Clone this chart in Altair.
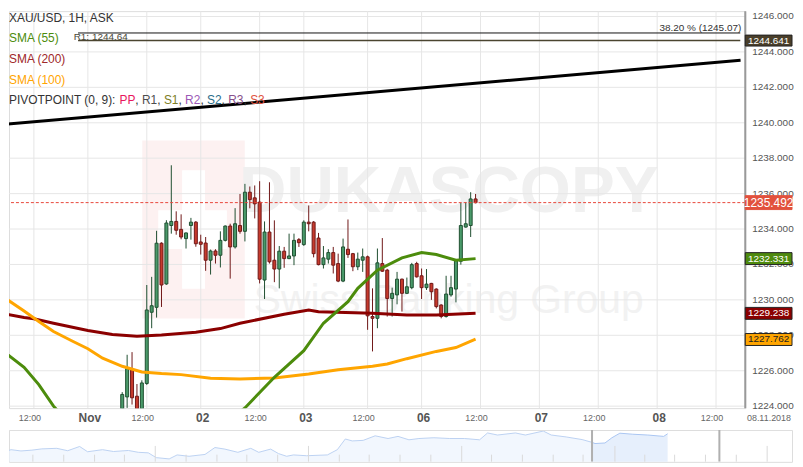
import altair as alt
import pandas as pd

FONT = "Liberation Sans"

# ------------------------------------------------------------------ data
# hourly XAU/USD candles (slot 0 = first visible candle)
opens = [1223.0, 1224.52, 1226.06, 1224.56, 1223.4, 1225.28, 1229.3, 1229.58, 1233.2, 1230.9,
         1234.2, 1234.43, 1233.98, 1233.46, 1234.2, 1234.39, 1233.27, 1233.21, 1232.24, 1232.76,
         1232.52, 1233.36, 1234.17, 1232.99, 1234.2, 1233.87, 1236.08, 1235.76, 1235.52, 1231.12,
         1233.83, 1232.24, 1231.74, 1232.75, 1232.33, 1232.48, 1233.4, 1233.12, 1234.39, 1234.39,
         1233.49, 1231.99, 1232.3, 1232.67, 1232.05, 1231.06, 1232.86, 1232.61, 1231.87, 1232.24,
         1232.43, 1229.06, 1228.96, 1232.05, 1231.68, 1230.08, 1230.28, 1231.17, 1230.37, 1230.69,
         1232.05, 1231.36, 1230.69, 1230.93, 1230.61, 1229.71, 1229.06, 1230.28, 1230.61, 1232.18,
         1234.11, 1234.2, 1235.7]
highs = [1224.79, 1226.9, 1227.05, 1225.25, 1225.46, 1230.84, 1231.3, 1233.9, 1233.25, 1234.5,
         1237.6, 1235.0, 1234.83, 1233.8, 1234.63, 1234.45, 1233.68, 1233.55, 1232.84, 1232.86,
         1233.87, 1234.2, 1234.3, 1235.18, 1235.98, 1236.55, 1236.4, 1236.46, 1236.7, 1234.43,
         1236.64, 1234.49, 1233.04, 1232.99, 1233.74, 1233.74, 1233.49, 1234.49, 1235.33, 1234.45,
         1233.78, 1233.04, 1232.86, 1232.99, 1232.61, 1233.46, 1234.54, 1232.65, 1232.67, 1232.9,
         1232.5, 1230.65, 1232.9, 1233.49, 1231.75, 1230.69, 1231.58, 1231.2, 1231.26, 1232.09,
         1232.15, 1231.77, 1231.74, 1230.96, 1230.65, 1229.75, 1231.36, 1231.36, 1232.3, 1235.48,
         1235.52, 1236.08, 1235.98]
lows = [1222.8, 1223.9, 1224.09, 1222.9, 1223.2, 1225.2, 1228.4, 1229.0, 1229.6, 1230.85,
        1233.74, 1233.68, 1233.42, 1232.9, 1233.4, 1233.0, 1232.56, 1231.64, 1231.43, 1232.05,
        1231.83, 1233.3, 1231.2, 1232.9, 1233.74, 1233.3, 1235.17, 1234.6, 1230.93, 1230.05,
        1232.05, 1231.0, 1230.65, 1231.81, 1232.3, 1231.96, 1232.99, 1233.05, 1233.87, 1232.4,
        1231.95, 1231.77, 1232.05, 1231.49, 1231.0, 1231.0, 1232.37, 1231.62, 1231.68, 1231.58,
        1228.31, 1227.09, 1228.4, 1231.58, 1229.06, 1229.06, 1229.75, 1229.34, 1230.33, 1230.6,
        1231.26, 1230.05, 1230.56, 1230.0, 1229.52, 1228.96, 1229.0, 1230.18, 1229.86, 1231.99,
        1234.08, 1233.55, 1235.45]
closes = [1224.66, 1226.12, 1224.47, 1223.4, 1225.31, 1229.43, 1229.67, 1233.2, 1230.84, 1234.34,
          1234.43, 1233.93, 1233.55, 1233.78, 1234.39, 1233.17, 1233.14, 1232.24, 1232.76, 1232.52,
          1233.36, 1234.17, 1232.99, 1234.3, 1233.87, 1236.08, 1235.66, 1235.42, 1231.17, 1233.83,
          1232.15, 1231.74, 1232.75, 1232.33, 1232.48, 1233.36, 1233.23, 1234.39, 1234.3, 1232.61,
          1231.99, 1232.37, 1232.67, 1231.96, 1231.06, 1232.99, 1232.56, 1231.87, 1232.3, 1232.43,
          1229.1, 1228.96, 1232.09, 1231.62, 1230.08, 1230.37, 1231.17, 1230.37, 1230.74, 1231.99,
          1231.3, 1230.69, 1230.89, 1230.46, 1229.62, 1229.06, 1230.33, 1230.69, 1232.24, 1234.2,
          1234.3, 1235.7, 1235.49]

sma55_slots = [-24, -20, -17, -14, -12, -8, 4, 14, 20, 25, 31, 37, 41, 46, 48, 52, 57, 61, 64, 68, 72]
sma55_vals = [1227.05, 1226.19, 1225.22, 1224.0, 1223.4, 1222.5, 1221.6, 1221.7, 1222.8, 1223.9,
              1225.63, 1227.13, 1228.68, 1229.9, 1230.65, 1231.68, 1232.37, 1232.67, 1232.56,
              1232.24, 1232.33]
sma100_slots = [-24, -20, -17, -14, -10, -7, -4, 0, 4, 8, 12, 18, 24, 31, 38, 44, 51, 54, 58, 64, 68, 72]
sma100_vals = [1230.12, 1229.37, 1228.78, 1228.21, 1227.65, 1227.24, 1226.71, 1226.25, 1225.93,
               1225.84, 1225.78, 1225.58, 1225.53, 1225.59, 1225.81, 1226.06, 1226.25, 1226.38,
               1226.68, 1227.09, 1227.31, 1227.78]
sma200_slots = [-24, -20, -18, -14, -7, -2, 3, 8, 15, 20, 24, 33, 38, 40, 51, 58, 64, 72]
sma200_vals = [1229.21, 1229.0, 1228.93, 1228.68, 1228.27, 1228.05, 1227.95, 1228.02, 1228.17,
               1228.38, 1228.68, 1229.19, 1229.43, 1229.33, 1229.24, 1229.15, 1229.15, 1229.25]

trend_slots = [-23.66, 126.0]
trend_vals = [1239.92, 1243.53]

fib_level = 1245.07
r1_level = 1244.641
pivot_start_slot = -9.0
last_price = 1235.492

badge_prices = [1244.641, 1235.492, 1232.331, 1229.238, 1227.762]
badge_texts = ["1244.641", "1235.492", "1232.331", "1229.238", "1227.762"]

tick_slots = [-18, -7, 5, 16, 28, 37, 50, 61, 73, 85, 97, 109, 121]
tick_labels = ["12:00", "Nov", "12:00", "02", "12:00", "03", "12:00", "06", "12:00", "07",
               "12:00", "08", "12:00"]
y_ticks = [1224, 1226, 1228, 1230, 1232, 1234, 1236, 1238, 1240, 1242, 1244, 1246]

# overview navigator (time position, price-like level)
nav_x = [0, 10, 20, 31, 41, 56, 67, 79, 87, 102, 113, 128, 138, 148, 156, 169, 177, 189, 205,
         215, 225, 238, 251, 259, 271, 279, 287, 294, 307, 328, 338, 346, 353, 364, 376, 389,
         399, 410, 420, 435, 451, 466, 481, 489, 499, 517, 527, 545, 553, 568, 584, 594, 597,
         607, 614, 622, 635, 650, 666, 670]
nav_vals = [1210.3, 1215.3, 1213.7, 1214.7, 1216.3, 1217.0, 1214.0, 1219.3, 1212.7, 1215.3,
            1213.0, 1214.3, 1212.0, 1211.3, 1205.3, 1203.7, 1208.7, 1207.0, 1209.3, 1218.0,
            1216.0, 1212.0, 1217.0, 1212.0, 1216.0, 1210.3, 1207.0, 1208.7, 1207.7, 1208.7,
            1215.3, 1228.7, 1226.3, 1227.0, 1232.7, 1229.3, 1232.0, 1227.7, 1229.3, 1230.3,
            1229.3, 1229.3, 1227.7, 1236.3, 1233.7, 1236.3, 1233.7, 1238.7, 1233.7, 1231.3,
            1228.0, 1224.5, 1223.0, 1223.7, 1230.3, 1236.0, 1234.7, 1233.7, 1232.0, 1235.3]
nav_window = [594, 671]
nav_handles = [594, 722]
nav_long_ticks = [2, 155, 309, 463, 617, 770]
nav_short_ticks = [32, 63, 94, 124, 186, 217, 247, 278, 340, 370, 401, 432, 493, 524, 555,
                   585, 647, 677, 708, 739, 800]

# ------------------------------------------------------------------ styles
GREEN_FILL, GREEN_EDGE = "#4a9a6a", "#1f4f30"
RED_FILL, RED_EDGE = "#c63a2c", "#701818"
C55, C200, C100 = "#4c8c0c", "#8b0000", "#ffa500"
GRID = "#e6e6e6"
W, H = 740, 399
PX_PER_UNIT = H / (1246.303 - 1223.888)

x_scale = alt.Scale(domain=[-22.06, 125.94], nice=False, zero=False)
y_scale = alt.Scale(domain=[1223.888, 1246.303], nice=False, zero=False)


def X(field, axis=None):
    return alt.X(field, type="quantitative", scale=x_scale, axis=axis)


def Y(field, axis=None):
    return alt.Y(field, type="quantitative", scale=y_scale, axis=axis)


def one(**kw):
    return pd.DataFrame({k: [v] for k, v in kw.items()}) if kw else pd.DataFrame({"a": [0]})


def txt(s, x, y, color, size=12, weight="normal", align="left", baseline="alphabetic"):
    return alt.Chart(one(t=s)).mark_text(
        align=align, baseline=baseline, color=color, fontSize=size,
        fontWeight=weight, font=FONT
    ).encode(text="t:N", x=alt.value(x), y=alt.value(y))


def box(x0, x1, y0, y1, color):
    return alt.Chart(one()).mark_rect(color=color).encode(
        x=alt.value(x0), x2=alt.value(x1), y=alt.value(y0), y2=alt.value(y1))


# ------------------------------------------------------------------ tables
cdf = pd.DataFrame({"slot": list(range(len(opens))), "o": opens, "h": highs, "l": lows, "c": closes})
up = cdf["c"] >= cdf["o"]
cdf["fill"] = [GREEN_FILL if u else RED_FILL for u in up]
cdf["edge"] = [GREEN_EDGE if u else RED_EDGE for u in up]

layers = []

# watermark
layers += [
    box(134, 237, 130, 309, "#fdf1f1"),
    box(174, 197, 160, 279, "#ffffff"),
    box(150, 219, 200, 239, "#ffffff"),
    txt("DUKASCOPY", 442, 201.5, "#f0f0f0", size=66, weight="bold", align="center"),
    txt("Swiss Banking Group", 442, 303, "#f2f2f2", size=41, align="center"),
]

# grid + axes
layers.append(
    alt.Chart(pd.DataFrame({"slot": tick_slots})).mark_rule(color=GRID, strokeWidth=1).encode(
        x=X("slot", axis=alt.Axis(orient="bottom", labels=False, ticks=False, grid=False,
                                  domainColor="#222", domainWidth=1.5, title=None)))
)
layers.append(
    alt.Chart(pd.DataFrame({"p": y_ticks})).mark_rule(color=GRID, strokeWidth=1).encode(y=Y("p"))
)

# fibonacci / pivot levels
layers.append(
    alt.Chart(one(x0=pivot_start_slot, x1=x_scale.domain[1], p=fib_level)).mark_rule(
        color="#111", strokeWidth=1, clip=True).encode(x=X("x0"), x2="x1", y=Y("p"))
)
layers.append(
    alt.Chart(one(x0=pivot_start_slot, x1=x_scale.domain[1], p=r1_level)).mark_rule(
        color="#4b4530", strokeWidth=1.5, clip=True).encode(x=X("x0"), x2="x1", y=Y("p"))
)

# trendline
layers.append(
    alt.Chart(pd.DataFrame({"slot": trend_slots, "v": trend_vals})).mark_line(
        color="#000", strokeWidth=3, clip=True).encode(x=X("slot"), y=Y("v"))
)

# candles
layers.append(
    alt.Chart(cdf).mark_rule(strokeWidth=1, clip=True).encode(
        x=X("slot"), y=Y("l"), y2="h", stroke=alt.Stroke("edge:N", scale=None))
)
layers.append(
    alt.Chart(cdf).mark_bar(width=3, strokeWidth=1, clip=True).encode(
        x=X("slot"), y=Y("o"), y2="c",
        fill=alt.Fill("fill:N", scale=None), stroke=alt.Stroke("edge:N", scale=None))
)

# moving averages
for slots, vals, col in [(sma200_slots, sma200_vals, C200),
                         (sma100_slots, sma100_vals, C100),
                         (sma55_slots, sma55_vals, C55)]:
    layers.append(
        alt.Chart(pd.DataFrame({"slot": slots, "v": vals})).mark_line(
            color=col, strokeWidth=3, clip=True).encode(x=X("slot"), y=Y("v"))
    )

# current price line
layers.append(
    alt.Chart(one(p=last_price)).mark_rule(color="#e8473a", strokeWidth=1, strokeDash=[3, 2]).encode(
        y=Y("p"))
)

# level labels
layers.append(txt("38.20 % (1245.07)", 736, 20.3, "#333", size=10, align="right"))
layers.append(txt("R1: 1244.64", 65, 28.7, "#4a4a3a", size=10))

# legend
layers += [
    txt("XAU/USD, 1H, ASK", 0, 11.3, "#333"),
    txt("SMA (55)", 0, 31.3, C55),
    txt("SMA (200)", 0, 52, "#a0282a"),
    txt("SMA (100)", 0, 73, C100),
    txt("PIVOTPOINT (0, 9): ", 0, 93, "#333"),
]
char_w = {"P": 8.0, "R": 8.67, "S": 8.0, "1": 6.67, "2": 6.67, "3": 6.67}
tokens = [("PP", "#e8175d"), ("R1", "#4d4d4d"), ("S1", "#7d7d25"), ("R2", "#9b59b6"),
          ("S2", "#2c6e8a"), ("R3", "#87508a"), ("S3", "#e0533f")]
px = 111.0
for i, (tok, col) in enumerate(tokens):
    layers.append(txt(tok, px, 93, col))
    wtok = sum(char_w[c] for c in tok)
    if i < len(tokens) - 1:
        layers.append(txt(",", px + wtok, 93, "#333"))
    px += wtok + 6.67

# x-axis labels
tdf = pd.DataFrame({"slot": tick_slots, "label": tick_labels})
tdf["kind"] = ["h" if l == "12:00" else "d" for l in tick_labels]
layers.append(
    alt.Chart(tdf).transform_filter("datum.kind == 'h'").mark_text(
        dx=-4, fontSize=9, color="#666", font=FONT, baseline="middle").encode(
        x=X("slot"), y=alt.value(409.3), text="label:N")
)
layers.append(
    alt.Chart(tdf).transform_filter("datum.kind == 'd'").mark_text(
        dx=2, fontSize=12, fontWeight="bold", color="#555", font=FONT, baseline="middle").encode(
        x=X("slot"), y=alt.value(409.3), text="label:N")
)
layers.append(txt("08.11.2018", 786, 409.3, "#666", size=9, align="right", baseline="middle"))

# right price axis: line + labels
layers.append(
    alt.Chart(one()).mark_rule(color="#999", strokeWidth=2).encode(
        x=alt.value(W), y=alt.value(0), y2=alt.value(H))
)
layers.append(
    alt.Chart(pd.DataFrame({"p": y_ticks})).transform_calculate(
        lab="format(datum.p, '.3f')").mark_text(
        align="left", baseline="middle", fontSize=10, color="#555", font=FONT).encode(
        x=alt.value(W + 7), y=Y("p"), text="lab:N")
)

# price badges on the axis
bstyle = [("#4a3f2a", "#ffffff", 10, 5.5, "#222"),
          ("#e2513d", "#ffffff", 12, 7.0, "#e2513d"),
          ("#4e8a0e", "#ffffff", 10, 6.0, "#222"),
          ("#8b0000", "#ffffff", 10, 6.0, "#222"),
          ("#ffa500", "#222222", 10, 6.0, "#222")]
bdf = pd.DataFrame({"p": badge_prices, "t": badge_texts})
bdf["fill"] = [s[0] for s in bstyle]
bdf["top"] = [p + s[3] / PX_PER_UNIT for p, s in zip(badge_prices, bstyle)]
bdf["bot"] = [p - s[3] / PX_PER_UNIT for p, s in zip(badge_prices, bstyle)]
bdf["edge"] = [s[4] for s in bstyle]
layers.append(
    alt.Chart(bdf).mark_rect(strokeWidth=1).encode(
        x=alt.value(W), x2=alt.value(787), y=Y("top"), y2="bot",
        fill=alt.Fill("fill:N", scale=None), stroke=alt.Stroke("edge:N", scale=None))
)
for i in range(len(badge_prices)):
    s = bstyle[i]
    layers.append(
        alt.Chart(bdf.iloc[[i]]).mark_text(
            align="center", baseline="middle", color=s[1], fontSize=s[2], font=FONT).encode(
            x=alt.value(763.5), y=Y("p"), text="t:N")
    )

main = alt.layer(*layers).properties(width=W, height=H)

# ------------------------------------------------------------------ navigator
nx = alt.Scale(domain=[8, 795], nice=False, zero=False)
ny = alt.Scale(domain=[1200, 1240], nice=False, zero=False)
ndf = pd.DataFrame({"x": nav_x, "v": nav_vals})


def NX(f):
    return alt.X(f, type="quantitative", scale=nx, axis=None)


def NY(f):
    return alt.Y(f, type="quantitative", scale=ny, axis=None)


nav_layers = [
    alt.Chart(ndf[ndf["x"] <= nav_window[0]]).mark_area(
        fill="#edf3fd", line={"color": "#bcd2f2", "strokeWidth": 1}, clip=True).encode(
        x=NX("x"), y=NY("v")),
    alt.Chart(ndf[ndf["x"] >= nav_window[0]]).mark_area(
        fill="#dce8fb", line={"color": "#a9c6f2", "strokeWidth": 1}, clip=True).encode(
        x=NX("x"), y=NY("v")),
    alt.Chart(pd.DataFrame({"x0": [0, nav_handles[1]], "x1": [nav_window[0], 810], "v": [1239.7, 1239.7]}))
    .mark_rule(color="#e0e0e0", strokeWidth=1, clip=True).encode(x=NX("x0"), x2="x1", y=NY("v")),
    alt.Chart(pd.DataFrame({"x": nav_long_ticks, "a": 1220, "b": 1200})).mark_rule(
        color="#dadada", strokeWidth=1, clip=True).encode(x=NX("x"), y=NY("a"), y2="b"),
    alt.Chart(pd.DataFrame({"x": nav_short_ticks, "a": 1209, "b": 1200})).mark_rule(
        color="#dadada", strokeWidth=1, clip=True).encode(x=NX("x"), y=NY("a"), y2="b"),
    alt.Chart(pd.DataFrame({"x": nav_handles})).mark_rule(
        color="#b0b0b0", strokeWidth=2, clip=True).encode(x=NX("x")),
]
nav = alt.layer(*nav_layers).properties(width=787, height=32)

chart = alt.vconcat(main, nav, spacing=4, padding=0).configure_view(stroke=None).configure(
    font=FONT, background="white")

chart.save("out.html", embed_options={"renderer": "svg", "actions": False})
